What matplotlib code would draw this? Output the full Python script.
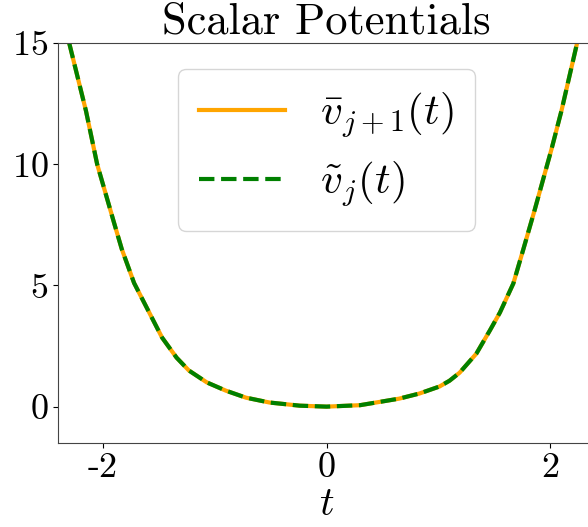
import matplotlib
matplotlib.use("Agg")
import matplotlib.pyplot as plt

plt.rcParams['font.family'] = 'serif'
plt.rcParams['font.serif'] = ['cmr10']
plt.rcParams['mathtext.fontset'] = 'cm'
plt.rcParams['axes.unicode_minus'] = False
plt.rcParams['axes.formatter.use_mathtext'] = True

# values
t_vals = [-2.30, -2.15, -2.05, -1.90, -1.83, -1.72, -1.58, -1.47, -1.34, -1.23, -1.07,
          -0.90, -0.72, -0.51, -0.24, 0.0, 0.30, 0.65, 0.83, 1.01, 1.10, 1.19, 1.34,
          1.46, 1.55, 1.67, 1.76, 1.86, 2.01, 2.10, 2.24]
v_bar = [15.0, 12.2, 10.0, 7.6, 6.5, 5.1, 3.84, 2.85, 2.02, 1.49, 1.0,
         0.66, 0.37, 0.17, 0.04, 0.0, 0.06, 0.33, 0.54, 0.83, 1.07, 1.4, 2.19,
         3.14, 3.88, 5.08, 6.5, 8.1, 10.6, 12.2, 15.0]
v_tilde = list(v_bar)

x_ticks = [-2, 0, 2]
y_ticks = [0, 5, 10, 15]

fig = plt.figure(figsize=(5.88, 5.27), dpi=100)
ax = fig.add_axes([58 / 588, 1 - 443 / 527, 537 / 588, 400 / 527])

ax.plot(t_vals, v_bar, color='orange', lw=3, label=r'$\bar{v}_{j+1}(t)$')
ax.plot(t_vals, v_tilde, color='green', lw=3, ls='--', label=r'$\tilde{v}_j(t)$')

ax.set_xlim(-2.4, 2.4)
ax.set_ylim(-1.5, 15)
ax.set_xticks(x_ticks)
ax.set_xticklabels([str(x) for x in x_ticks])
ax.set_yticks(y_ticks)
ax.tick_params(labelsize=26)
for s in ax.spines.values():
    s.set_color('#444444')

ax.set_title('Scalar Potentials', fontsize=32, pad=6)
ax.set_xlabel(r'$t$', fontsize=29, labelpad=2)
ax.legend(loc='upper center', fontsize=31, handlelength=2.0, borderpad=0.5,
          labelspacing=0.45, borderaxespad=0.6)

fig.savefig('out.png', dpi=100)
